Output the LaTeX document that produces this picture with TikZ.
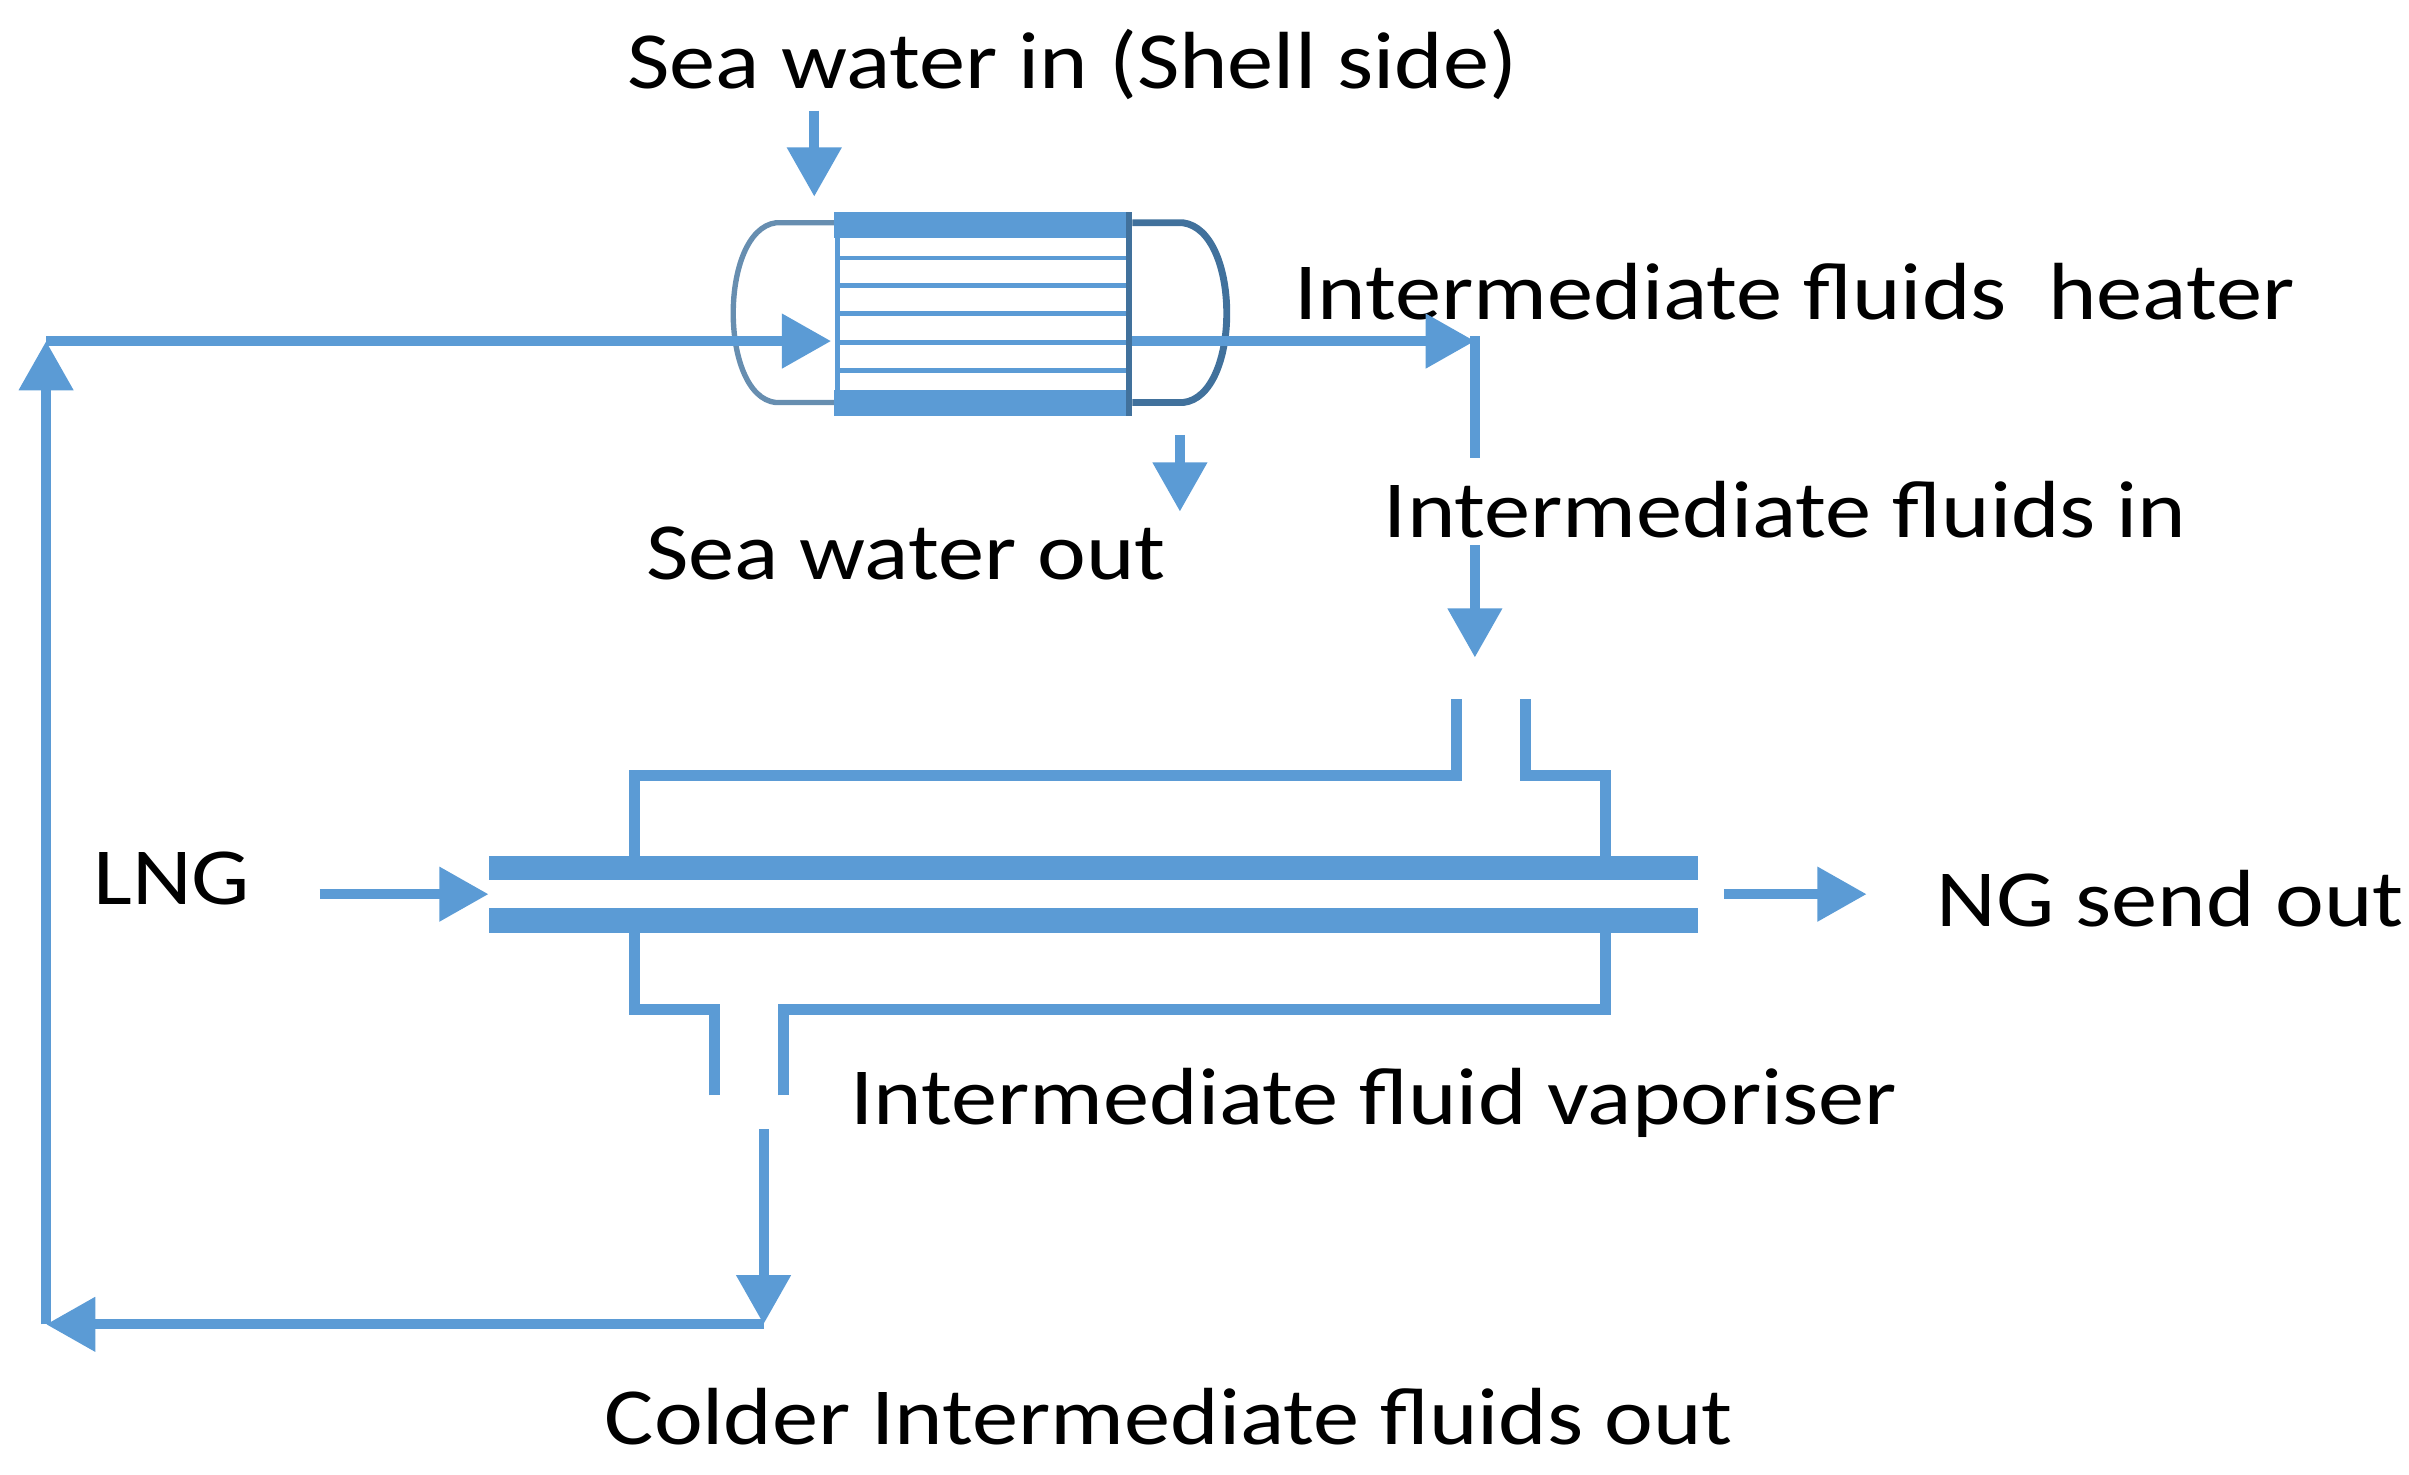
\documentclass[tikz,border=0pt]{standalone}
\usepackage{fontspec}
\setmainfont{Carlito}[FakeStretch=1.14]
\usetikzlibrary{arrows.meta}
\definecolor{pipe}{HTML}{5B9BD5}
\definecolor{dark}{HTML}{41719C}
\begin{document}
\begin{tikzpicture}[x=0.01cm,y=-0.01cm,
  flow/.style={draw=pipe,line width=0.065cm},
  arr/.style={flow,-{Triangle[length=0.32cm,width=0.34cm]}},
  lbl/.style={font=\fontsize{15}{17}\selectfont,inner sep=0pt,anchor=west}]
\useasboundingbox (0,0) rectangle (1568,960);
% labels
\node[lbl,anchor=center] (swin) at (698,42) {Sea water in (Shell side)};
\node[lbl] (hlab) at (842,190) {Intermediate fluids\ \ heater};
\node[lbl] (inlab) at (900,332) {Intermediate fluids in};
\node[lbl] (swout) at (420,360) {Sea water out};
\node[lbl] (lng) at (60,572) {LNG};
\node[lbl] (ng) at (1260,585) {NG send out};
\node[lbl] (vap) at (553,718) {Intermediate fluid vaporiser};
\node[lbl] (cold) at (393,922) {Colder Intermediate fluids out};
% heater
\draw[dark!80,line width=0.035cm] (545,145) -- (505,145) .. controls (468,150) and (468,258) .. (505,262) -- (545,262);
\draw[dark,line width=0.045cm] (737,145) -- (770,145) .. controls (808,150) and (808,258) .. (770,262) -- (737,262);
\fill[white] (543,138) rectangle (737,270);
\fill[pipe] (543,138) rectangle (737,155);
\fill[pipe] (543,254) rectangle (737,271);
\foreach \y in {168,186,204,223,241} \draw[pipe,line width=0.03cm] (545,\y) -- (735,\y);
\draw[pipe,line width=0.035cm] (545,138) -- (545,271);
\draw[dark,line width=0.04cm] (735,138) -- (735,271);
\coordinate (hin) at (541,222);
\coordinate (hout) at (737,222);
\coordinate (c1) at (960,222);
% sea water arrows
\coordinate (s1) at (530,72); \coordinate (s2) at (530,128);
\draw[arr] (s1) -- (s2);
\coordinate (o1) at (768,283); \coordinate (o2) at (768,333);
\draw[arr] (o1) -- (o2);
% loop
\coordinate (tl) at (30,222);
\coordinate (bl) at (30,862);
\coordinate (br) at (497,862);
\draw[arr] (tl) -- (hin);
\draw[arr] (hout) -- (c1);
\coordinate (c0) at (960,219);
\coordinate (c2) at (960,298);
\draw[flow] (c0) -- (c2);
\coordinate (c3) at (960,355); \coordinate (c4) at (960,428);
\draw[arr] (c3) -- (c4);
\coordinate (d1) at (497,735);
\draw[arr] (d1) -- (br);
\draw[arr] (br) -- (bl);
\draw[arr] (bl) -- (tl);
% vaporiser shell
\draw[flow,line width=0.07cm] (948,455) -- (948,505) -- (413,505) -- (413,557);
\draw[flow,line width=0.07cm] (993,455) -- (993,505) -- (1045,505) -- (1045,557);
\draw[flow,line width=0.07cm] (465,713) -- (465,657) -- (413,657) -- (413,607);
\draw[flow,line width=0.07cm] (510,713) -- (510,657) -- (1045,657) -- (1045,607);
\fill[pipe] (318,557) rectangle (1105,573);
\fill[pipe] (318,591) rectangle (1105,607);
% LNG / NG arrows
\coordinate (l1) at (208,582); \coordinate (l2) at (318,582);
\draw[arr] (l1) -- (l2);
\coordinate (n1) at (1122,582); \coordinate (n2) at (1215,582);
\draw[arr] (n1) -- (n2);
\end{tikzpicture}
\end{document}
